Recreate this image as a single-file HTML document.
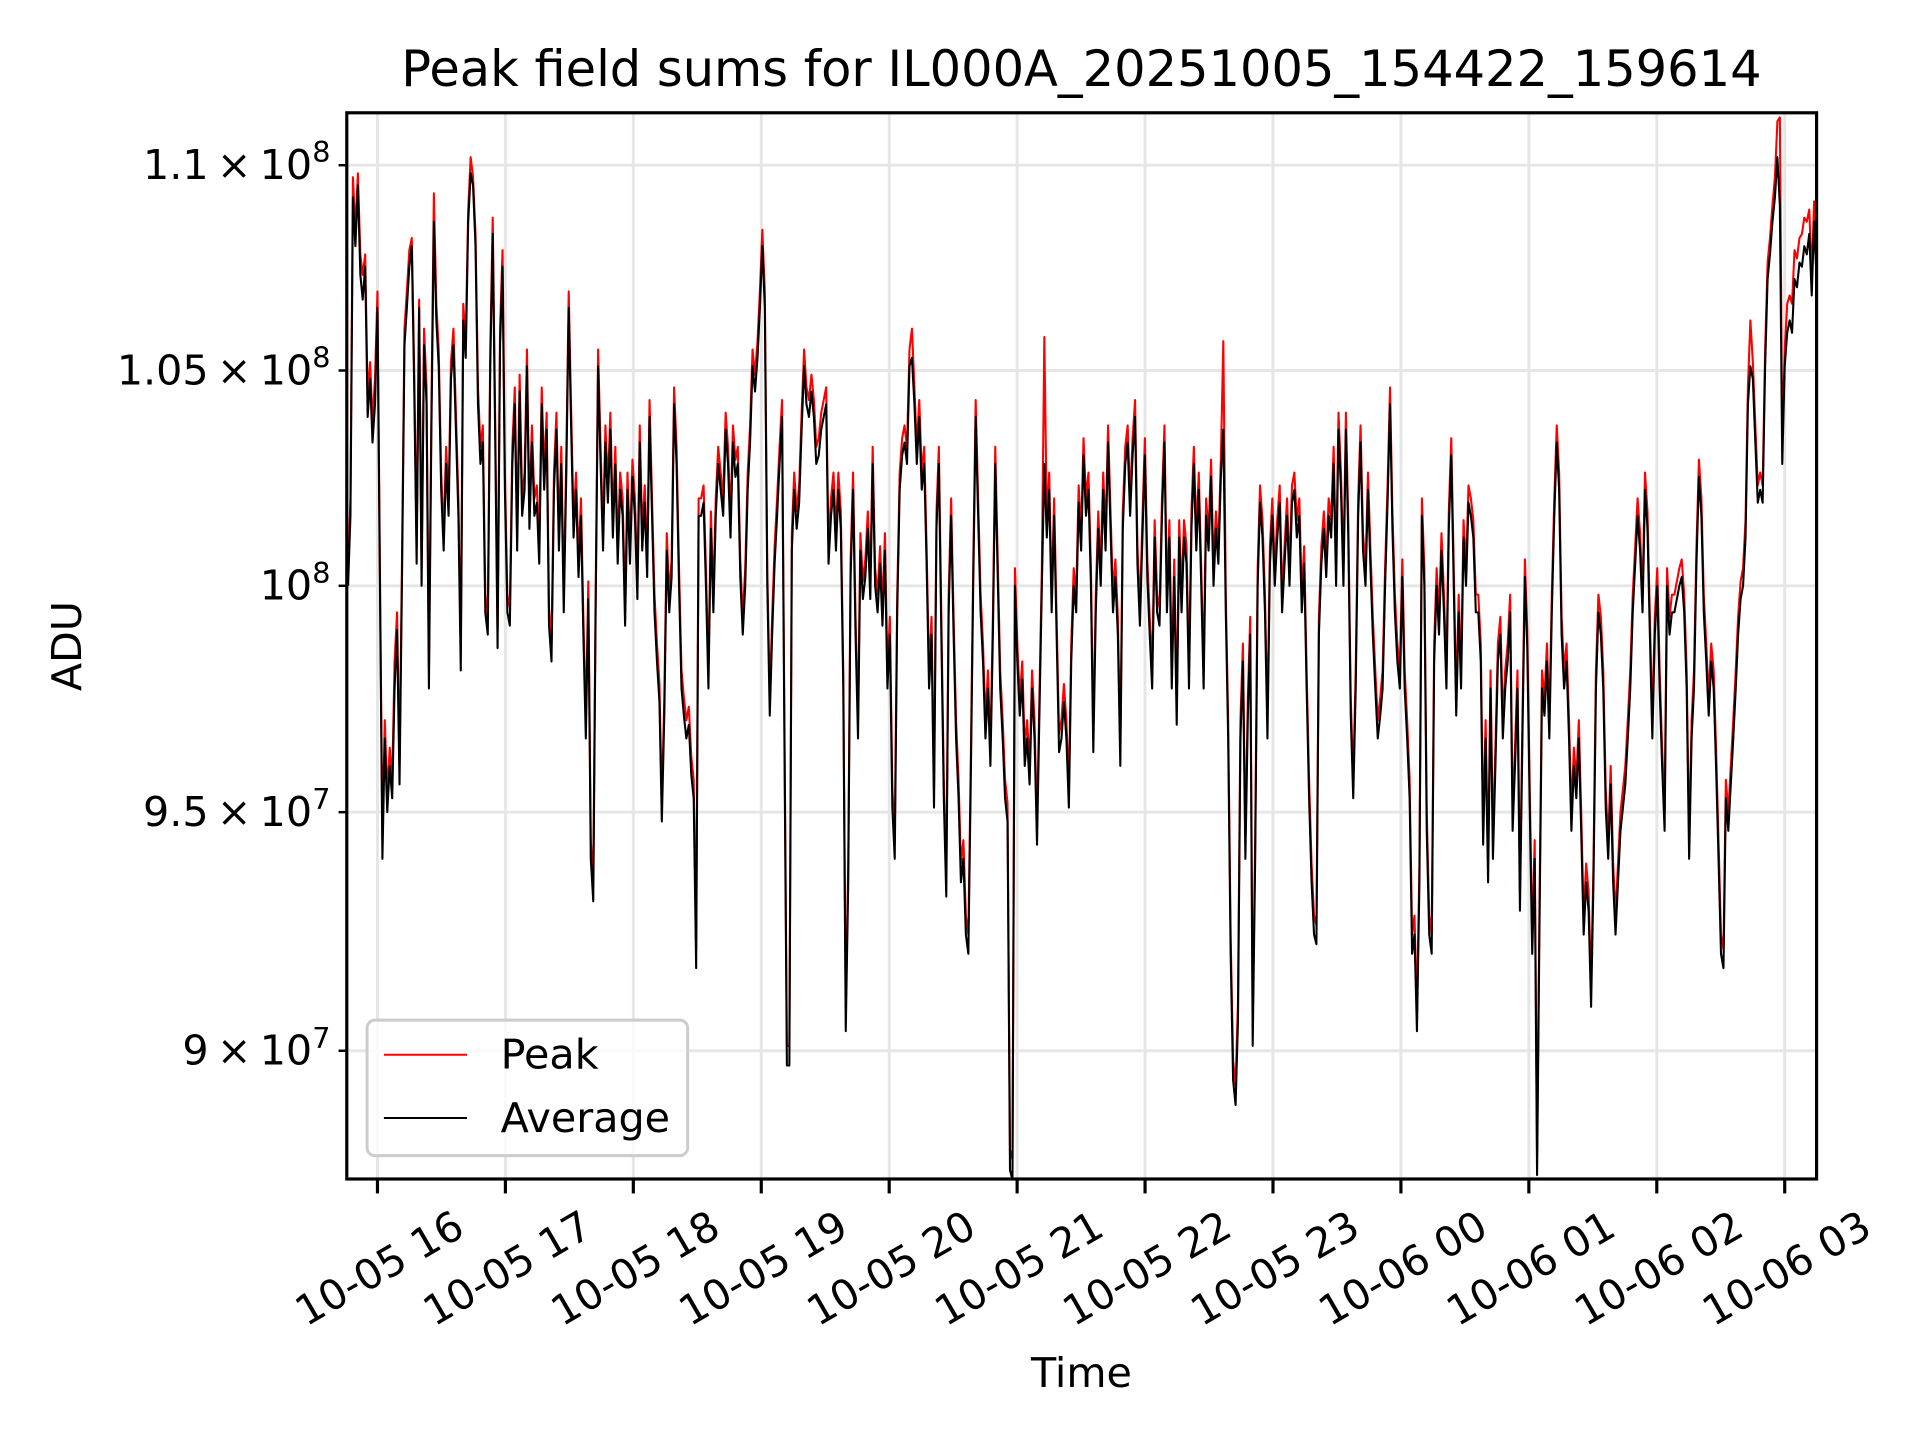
<!DOCTYPE html>
<html><head><meta charset="utf-8"><style>
html,body{margin:0;padding:0;background:#fff}
svg{display:block;font-family:"DejaVu Sans","Liberation Sans",sans-serif}
</style></head><body>
<svg id="chart" width="1920" height="1440" viewBox="0 0 1920 1440" xmlns="http://www.w3.org/2000/svg">
<rect width="1920" height="1440" fill="#fff"/>
<g transform="scale(0.98942)">
<text x="1093" y="87" font-size="50" text-anchor="middle" fill="#000">Peak field sums for IL000A_20251005_154422_159614</text>
<g id="grid"></g>
<g id="series"></g>
<rect x="350.5" y="114" width="1485.5" height="1077.6" fill="none" stroke="#000" stroke-width="3.2"/>
<g id="xticks"></g>
<g id="yticks"></g>
<text x="1093" y="1402" font-size="41.7" text-anchor="middle">Time</text>
<text x="0" y="0" font-size="41.7" text-anchor="middle" transform="translate(82,653) rotate(-90)">ADU</text>
<g>
<rect x="371" y="1031" width="324" height="137" rx="8" fill="#fff" fill-opacity="0.8" stroke="#ccc" stroke-width="3"/>
<g>
<line x1="388" y1="1066" x2="472" y2="1066" stroke="#f00" stroke-width="2"/>
<text x="506" y="1080" font-size="41.7">Peak</text></g>
<g>
<line x1="388" y1="1130" x2="472" y2="1130" stroke="#000" stroke-width="2"/>
<text x="506" y="1144" font-size="41.7">Average</text></g>
</g>
</g>
</svg>
<script>
// time sampling (hours relative to 10-05 16:00)
const t0 = -0.23;
const dt = 0.019164;
const xTickLabels = ["10-05 16","10-05 17","10-05 18","10-05 19","10-05 20","10-05 21","10-05 22","10-05 23","10-06 00","10-06 01","10-06 02","10-06 03"];
const yTickValues = [90,95,100,105,110];
const yTickMantissa = ["9","9.5","","1.05","1.1"];
const yTickExponent = ["7","7","8","8","8"];
// values in units of 1e6 ADU
const averageValues = [
100.0,101.6,109.2,108.0,109.5,107.3,106.7,107.5,103.9,104.8,
103.3,104.2,106.5,100.0,94.0,96.6,95.0,96.0,95.3,97.7,
99.0,95.6,100.2,105.6,106.5,107.5,108.0,104.5,100.5,106.5,
100.0,105.6,104.2,97.7,103.6,108.6,106.2,105.1,102.2,100.8,
102.8,101.6,104.8,105.6,103.6,101.6,98.1,106.2,105.3,108.6,
109.8,109.5,108.0,104.2,102.8,103.3,99.4,98.9,105.1,108.3,
103.6,98.6,105.6,107.5,102.2,99.4,99.1,102.8,104.2,100.8,
104.5,101.6,102.2,105.1,101.3,103.3,101.6,101.9,100.5,104.2,
102.2,103.6,99.1,98.3,102.2,103.6,100.8,102.8,99.4,102.5,
106.5,103.6,101.1,102.2,100.2,101.6,98.9,96.6,99.7,94.0,
93.1,99.4,105.1,102.8,100.8,103.3,101.9,103.6,101.1,102.8,
100.5,102.2,101.6,99.1,102.2,100.5,102.5,101.6,99.7,103.3,
100.8,101.9,100.2,103.9,101.6,99.4,98.3,97.4,94.8,97.1,
100.8,99.4,100.2,104.2,102.8,100.0,97.7,97.1,96.6,96.9,
95.8,95.3,91.7,101.6,101.6,101.9,100.0,97.7,101.3,99.4,
101.6,102.8,102.2,101.6,103.6,102.8,101.1,103.3,102.5,102.8,
100.2,98.9,100.0,102.2,103.3,105.1,104.5,105.3,106.5,108.0,
106.5,100.0,97.1,98.9,100.5,101.6,102.8,103.9,96.6,89.7,
89.7,100.8,102.2,101.3,101.9,103.6,105.1,104.2,103.9,104.5,
103.9,102.8,103.0,103.6,103.9,104.2,100.5,101.6,102.2,100.8,
102.2,101.3,97.7,90.4,93.5,100.2,102.2,98.9,96.6,100.8,
99.7,100.2,101.3,99.7,102.8,100.0,99.4,100.5,99.1,100.8,
97.7,98.9,95.1,94.0,99.4,102.2,103.0,103.3,102.8,105.1,
105.3,104.2,102.8,103.9,102.2,102.8,100.5,97.7,98.9,95.1,
101.3,102.8,98.9,95.3,93.2,99.4,101.6,98.9,96.6,95.3,
93.5,94.0,92.4,92.0,95.6,100.0,103.9,101.6,99.4,98.3,
96.6,97.7,96.0,98.9,102.8,100.2,97.7,96.6,95.3,94.8,
87.6,87.4,100.0,98.3,97.1,97.9,96.0,96.6,95.6,97.7,
96.6,94.3,97.1,100.0,102.8,101.1,102.2,99.4,101.6,98.9,
96.3,96.6,97.4,96.6,95.1,98.3,100.0,99.4,101.9,100.8,
103.0,101.6,102.2,100.0,96.3,99.4,101.3,100.0,102.2,100.8,
103.3,101.3,99.4,100.2,98.9,96.0,101.3,102.8,103.3,101.6,
103.0,103.9,100.5,99.1,101.1,103.0,100.2,98.9,97.7,101.1,
99.4,99.1,101.6,103.3,99.4,101.1,97.7,100.2,96.9,101.1,
99.4,101.1,100.5,97.7,101.3,102.8,100.8,102.2,100.0,97.7,
101.6,100.8,102.5,100.0,101.3,100.5,102.5,103.6,99.4,96.6,
92.0,89.4,88.9,90.6,96.6,98.3,94.0,97.1,98.9,90.1,
94.0,100.0,101.9,101.1,99.4,96.6,100.5,101.6,100.0,101.1,
101.9,99.4,100.5,101.6,100.0,101.9,102.2,101.1,101.6,99.4,
100.5,97.7,95.3,93.5,92.4,92.2,98.9,100.5,101.3,100.2,
101.6,101.1,102.8,100.0,103.6,102.2,100.0,103.6,101.1,97.1,
95.3,97.7,101.6,103.3,100.8,100.0,102.2,100.5,98.9,97.7,
96.6,97.1,97.7,100.0,101.9,104.2,101.3,99.4,98.3,97.7,
100.2,97.7,96.6,95.3,92.0,92.4,90.4,93.5,101.6,100.0,
94.6,92.4,92.0,98.3,100.0,98.9,100.8,99.4,97.7,101.3,
103.0,100.0,97.1,99.4,97.7,101.1,100.0,101.9,101.6,101.1,
99.4,99.4,98.3,94.3,96.6,93.5,97.7,94.0,96.0,98.3,
98.9,96.6,97.7,98.3,99.4,94.6,96.0,97.7,92.9,96.6,
100.2,98.6,95.1,92.0,94.0,87.5,92.7,97.7,97.1,98.3,
96.6,99.4,101.6,103.3,102.2,98.9,97.7,98.3,96.6,94.6,
96.0,95.3,96.6,94.6,92.4,93.5,92.9,90.9,93.5,97.7,
99.4,98.9,97.7,95.1,94.0,95.6,93.5,92.4,93.5,94.6,
95.1,95.6,96.6,97.7,99.4,100.5,101.6,100.8,99.4,102.2,
101.3,98.9,96.6,98.9,100.0,97.7,96.0,94.6,100.0,98.9,
99.4,99.4,99.7,100.0,100.2,99.4,97.7,94.0,96.6,97.7,
100.5,102.5,101.6,99.4,98.3,97.1,98.3,97.7,96.0,94.0,
92.0,91.7,95.3,94.6,95.6,96.6,97.7,98.9,99.7,100.0,
101.1,104.2,105.1,104.8,103.3,101.9,102.2,101.9,105.1,107.2,
107.8,108.6,109.2,110.2,109.0,102.8,105.1,105.9,106.2,105.9,
107.2,107.0,107.6,107.5,108.0,107.8,108.3,106.8,108.6,107.2];
const peakValues = [
100.4,102.0,109.7,108.4,109.8,107.8,107.3,107.8,104.4,105.2,
103.8,104.8,106.9,100.4,94.4,97.0,95.4,96.4,95.7,98.3,
99.4,96.0,100.6,106.0,106.9,107.9,108.2,104.9,100.9,106.7,
100.4,106.0,104.6,98.1,104.0,109.3,106.6,105.5,102.6,101.2,
103.2,102.0,105.2,106.0,104.0,102.0,98.5,106.6,105.7,108.9,
110.2,109.7,108.3,104.6,103.2,103.7,99.8,99.3,105.5,108.7,
104.0,99.0,106.0,107.9,102.6,99.8,99.5,103.2,104.6,101.2,
104.9,102.0,102.6,105.5,101.7,103.7,102.0,102.3,100.9,104.6,
102.6,104.0,99.5,98.7,102.6,104.0,101.2,103.2,99.8,102.9,
106.9,104.0,101.5,102.6,100.6,102.0,99.3,97.0,100.1,94.4,
93.5,99.8,105.5,103.2,101.2,103.7,102.3,104.0,101.5,103.2,
100.9,102.6,102.0,99.5,102.6,100.9,102.9,102.0,100.1,103.7,
101.2,102.3,100.6,104.3,102.0,99.8,98.7,97.8,95.2,97.5,
101.2,99.8,100.6,104.6,103.2,100.4,98.1,97.5,97.0,97.3,
96.2,95.7,92.1,102.0,102.0,102.3,100.4,98.1,101.7,99.8,
102.0,103.2,102.6,102.0,104.0,103.2,101.5,103.7,102.9,103.2,
100.6,99.3,100.4,102.6,103.7,105.5,104.9,105.7,106.9,108.4,
106.9,100.4,97.5,99.3,100.9,102.0,103.2,104.3,97.0,90.1,
90.1,101.2,102.6,101.7,102.3,104.0,105.5,104.6,104.3,104.9,
104.3,103.2,103.4,104.0,104.3,104.6,100.9,102.0,102.6,101.2,
102.6,101.7,98.1,90.8,93.9,100.6,102.6,99.3,97.0,101.2,
100.1,100.6,101.7,100.1,103.2,100.4,99.8,100.9,99.5,101.2,
98.1,99.3,95.5,94.4,99.8,102.6,103.4,103.7,103.2,105.5,
106.0,104.6,103.2,104.3,102.6,103.2,100.9,98.1,99.3,95.5,
101.7,103.2,99.3,95.7,93.6,99.8,102.0,99.3,97.0,95.7,
93.9,94.4,92.8,92.4,96.0,100.4,104.3,102.0,99.8,98.7,
97.0,98.1,96.4,99.3,103.2,100.6,98.1,97.0,95.7,95.2,
88.0,87.8,100.4,98.7,97.5,98.3,96.4,97.0,96.0,98.1,
97.0,94.7,97.5,100.4,105.8,101.5,102.6,99.8,102.0,99.3,
96.7,97.0,97.8,97.0,95.5,98.7,100.4,99.8,102.3,101.2,
103.4,102.0,102.6,100.4,96.7,99.8,101.7,100.4,102.6,101.2,
103.7,101.7,99.8,100.6,99.3,96.4,101.7,103.2,103.7,102.0,
103.4,104.3,100.9,99.5,101.5,103.4,100.6,99.3,98.1,101.5,
99.8,99.5,102.0,103.7,99.8,101.5,98.1,100.6,97.3,101.5,
99.8,101.5,100.9,98.1,101.7,103.2,101.2,102.6,100.4,98.1,
102.0,101.2,102.9,100.4,101.7,100.9,102.9,105.7,99.8,97.0,
92.4,89.8,89.3,91.0,97.0,98.7,94.4,97.5,99.3,90.5,
94.4,100.4,102.3,101.5,99.8,97.0,100.9,102.0,100.4,101.5,
102.3,99.8,100.9,102.0,100.4,102.3,102.6,101.5,102.0,99.8,
100.9,98.1,95.7,93.9,92.8,92.6,99.3,100.9,101.7,100.6,
102.0,101.5,103.2,100.4,104.0,102.6,100.4,104.0,101.5,97.5,
95.7,98.1,102.0,103.7,101.2,100.4,102.6,100.9,99.3,98.1,
97.0,97.5,98.1,100.4,102.3,104.6,101.7,99.8,98.7,98.1,
100.6,98.1,97.0,95.7,92.4,92.8,90.8,93.9,102.0,100.4,
95.0,92.8,92.4,98.7,100.4,99.3,101.2,99.8,98.1,101.7,
103.4,100.4,97.5,99.8,98.1,101.5,100.4,102.3,102.0,101.5,
99.8,99.8,98.7,94.7,97.0,93.9,98.1,94.4,96.4,98.7,
99.3,97.0,98.1,98.7,99.8,95.0,96.4,98.1,93.3,97.0,
100.6,99.0,95.5,92.4,94.4,87.9,93.1,98.1,97.5,98.7,
97.0,99.8,102.0,103.7,102.6,99.3,98.1,98.7,97.0,95.0,
96.4,95.7,97.0,95.0,92.8,93.9,93.3,91.3,93.9,98.1,
99.8,99.3,98.1,95.5,94.4,96.0,93.9,92.8,93.9,95.0,
95.5,96.0,97.0,98.1,99.8,100.9,102.0,101.2,99.8,102.6,
101.7,99.3,97.0,99.3,100.4,98.1,96.4,95.0,100.4,99.3,
99.8,99.8,100.1,100.4,100.6,99.8,98.1,94.4,97.0,98.1,
100.9,102.9,102.0,99.8,98.7,97.5,98.7,98.1,96.4,94.4,
92.4,92.1,95.7,95.0,96.0,97.0,98.1,99.3,100.1,100.4,
101.5,104.6,106.2,105.2,103.7,102.3,102.6,102.3,105.5,107.6,
108.2,109.0,109.7,111.1,111.2,103.2,105.5,106.6,106.8,106.6,
107.9,107.7,108.2,108.3,108.7,108.6,108.9,107.3,109.1,107.8];

const NS = "http://www.w3.org/2000/svg";
const L = 350.5, R = 1836, T = 114, B = 1191.6;
function xScale(h){ return 381.5 + h * 129.3; }
function yScale(v){ return 1062 - (Math.log10(v * 1e6) - Math.log10(9e7)) * 10270; }
function mk(tag, attrs, parent){
  const e = document.createElementNS(NS, tag);
  for (const k in attrs) e.setAttribute(k, attrs[k]);
  parent.appendChild(e);
  return e;
}
const grid = document.getElementById('grid');
const xt = document.getElementById('xticks');
const yt = document.getElementById('yticks');

xTickLabels.forEach((lab, i) => {
  const x = xScale(i);
  const g = mk('line', {x1:x, y1:T, x2:x, y2:B, stroke:'#e6e6e6', 'stroke-width':3}, grid);
  
  
  const tk = mk('line', {x1:x, y1:B, x2:x, y2:B+14.6, stroke:'#000', 'stroke-width':3.2}, xt);
  
  
  const tx = mk('text', {x:0, y:0, 'font-size':41.7, 'text-anchor':'middle', 'dominant-baseline':'central', transform:`translate(${x+2},${1282}) rotate(-30)`}, xt);
  tx.textContent = lab;
  
  
});

yTickValues.forEach((v, i) => {
  const y = yScale(v);
  const g = mk('line', {x1:L, y1:y, x2:R, y2:y, stroke:'#e6e6e6', 'stroke-width':3}, grid);
  
  
  const tk = mk('line', {x1:L-8.3, y1:y, x2:L, y2:y, stroke:'#000', 'stroke-width':2.5}, yt);
  
  
  const tx = mk('text', {x:334, y:y+14, 'font-size':41.7, 'text-anchor':'end'}, yt);
  
  
  const m = yTickMantissa[i];
  const base = document.createElementNS(NS, 'tspan');
  base.textContent = (m ? m + '\u2009\u00d7\u200910' : '10');
  tx.appendChild(base);
  const sup = document.createElementNS(NS, 'tspan');
  sup.setAttribute('font-size', '29');
  sup.setAttribute('dy', '-17');
  sup.textContent = yTickExponent[i];
  tx.appendChild(sup);
});

const series = document.getElementById('series');
function linePath(vals){
  let d = '';
  vals.forEach((v, i) => {
    const x = xScale(t0 + i * dt), y = yScale(v);
    d += (i ? 'L' : 'M') + x.toFixed(1) + ' ' + y.toFixed(1);
  });
  return d;
}
const clip = mk('clipPath', {id:'plotclip'}, series);
mk('rect', {x:L, y:T, width:R-L, height:B-T}, clip);
const pk = mk('path', {d:linePath(peakValues), fill:'none', stroke:'#f00', 'stroke-width':2.1, 'stroke-linejoin':'round', 'clip-path':'url(#plotclip)'}, series);


const av = mk('path', {d:linePath(averageValues), fill:'none', stroke:'#000', 'stroke-width':2.1, 'stroke-linejoin':'round', 'clip-path':'url(#plotclip)'}, series);


</script>
</body></html>
